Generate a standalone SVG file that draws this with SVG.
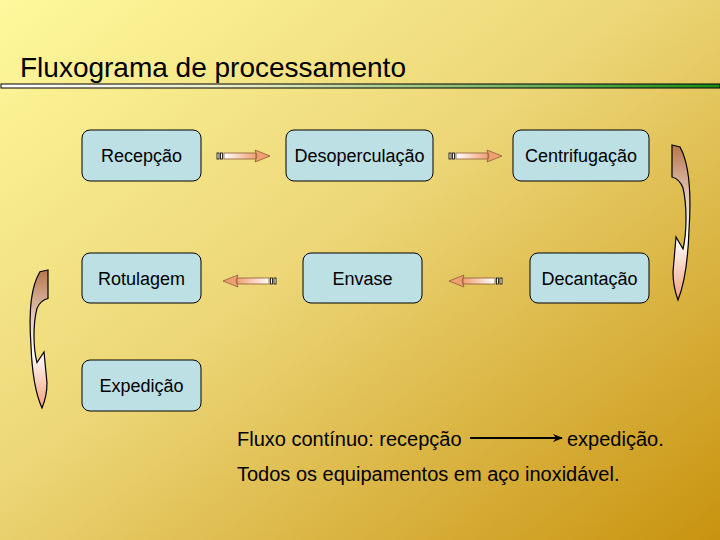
<svg xmlns="http://www.w3.org/2000/svg" width="720" height="540" viewBox="0 0 720 540">
<defs>
<linearGradient id="bg" x1="0" y1="0" x2="1" y2="1">
<stop offset="0" stop-color="#fef99c"/>
<stop offset="0.45" stop-color="#ecd677"/>
<stop offset="1" stop-color="#c8930f"/>
</linearGradient>
<linearGradient id="bar" x1="0" y1="0" x2="1" y2="0">
<stop offset="0" stop-color="#ffffff"/>
<stop offset="0.35" stop-color="#e8ecc0"/>
<stop offset="1" stop-color="#1a8a1a"/>
</linearGradient>
<linearGradient id="shaftR" x1="0" y1="0" x2="1" y2="0">
<stop offset="0" stop-color="#ffffff"/>
<stop offset="1" stop-color="#f0a070"/>
</linearGradient>
<linearGradient id="curve" x1="0" y1="0" x2="0" y2="1">
<stop offset="0" stop-color="#b8764a"/>
<stop offset="0.4" stop-color="#ead8d0"/>
<stop offset="0.6" stop-color="#ffffff"/>
<stop offset="1" stop-color="#f2a080"/>
</linearGradient>
<marker id="ah" markerWidth="10" markerHeight="8" refX="9" refY="4" orient="auto" markerUnits="userSpaceOnUse">
<path d="M0,0 L10,4 L0,8 L3,4 Z" fill="#000"/>
</marker>
<g id="sarrow">
<rect x="0" y="-3" width="2" height="6" fill="#fff" stroke="#000" stroke-width="0.8"/>
<rect x="3.5" y="-3" width="2" height="6" fill="#fff" stroke="#000" stroke-width="0.8"/>
<rect x="7" y="-3" width="32" height="6" fill="url(#shaftR)" stroke="#8a5a3a" stroke-width="0.8"/>
<path d="M38,-6 L53,0 L38,6 L40,0 Z" fill="#f0a070" stroke="#8a5a3a" stroke-width="0.8"/>
</g>
<path id="carrow" d="M672,145 L680,147 C690,165 691,200 689,230 C688,260 684,285 678,300 C675,292 673,282 673,272 L676,237 L683,249 C687,232 687,205 683,188 C680,180 676,178 672,177 Z"/>
</defs>
<style>
.node rect{fill:#bde0e4;stroke:#000;stroke-width:1}
text{font-family:"Liberation Sans",Arial,sans-serif;fill:#000}
.lbl{font-size:18px;text-anchor:middle}
.note{font-size:20px}
</style>
<rect x="0" y="0" width="720" height="540" fill="url(#bg)"/>
<text x="20" y="77" font-size="28">Fluxograma de processamento</text>
<rect x="1" y="84" width="719" height="4" fill="url(#bar)" stroke="#000" stroke-width="1"/>

<g id="n-recepcao" class="node"><rect x="82" y="130" width="119" height="51" rx="8"/><text class="lbl" x="141.5" y="162">Recepção</text></g>
<g id="n-desoperculacao" class="node"><rect x="286" y="130" width="147" height="51" rx="8"/><text class="lbl" x="359.5" y="162">Desoperculação</text></g>
<g id="n-centrifugacao" class="node"><rect x="513" y="130" width="136" height="51" rx="8"/><text class="lbl" x="581" y="162">Centrifugação</text></g>
<g id="n-rotulagem" class="node"><rect x="82" y="253" width="119" height="50" rx="8"/><text class="lbl" x="141.5" y="285">Rotulagem</text></g>
<g id="n-envase" class="node"><rect x="303" y="253" width="119" height="50" rx="8"/><text class="lbl" x="362.5" y="285">Envase</text></g>
<g id="n-decantacao" class="node"><rect x="530" y="253" width="119" height="50" rx="8"/><text class="lbl" x="589.5" y="285">Decantação</text></g>
<g id="n-expedicao" class="node"><rect x="82" y="360" width="119" height="51" rx="8"/><text class="lbl" x="141.5" y="392">Expedição</text></g>

<g id="connectors">
<use href="#sarrow" transform="translate(217,156)"/>
<use href="#sarrow" transform="translate(449,156)"/>
<use href="#sarrow" transform="translate(276,281) scale(-1,1)"/>
<use href="#sarrow" transform="translate(502,281) scale(-1,1)"/>
<use href="#carrow" fill="url(#curve)" stroke="#000" stroke-width="1.2"/>
<use href="#carrow" fill="url(#curve)" stroke="#000" stroke-width="1.2" vector-effect="non-scaling-stroke" transform="matrix(-1,0,0,0.89,720,141)"/>
<line x1="470" y1="438" x2="562" y2="438" stroke="#000" stroke-width="2" marker-end="url(#ah)"/>
</g>

<text class="note" x="237" y="446">Fluxo contínuo: recepção</text>
<text class="note" x="567" y="446">expedição.</text>
<text class="note" x="237" y="481">Todos os equipamentos em aço inoxidável.</text>
</svg>
